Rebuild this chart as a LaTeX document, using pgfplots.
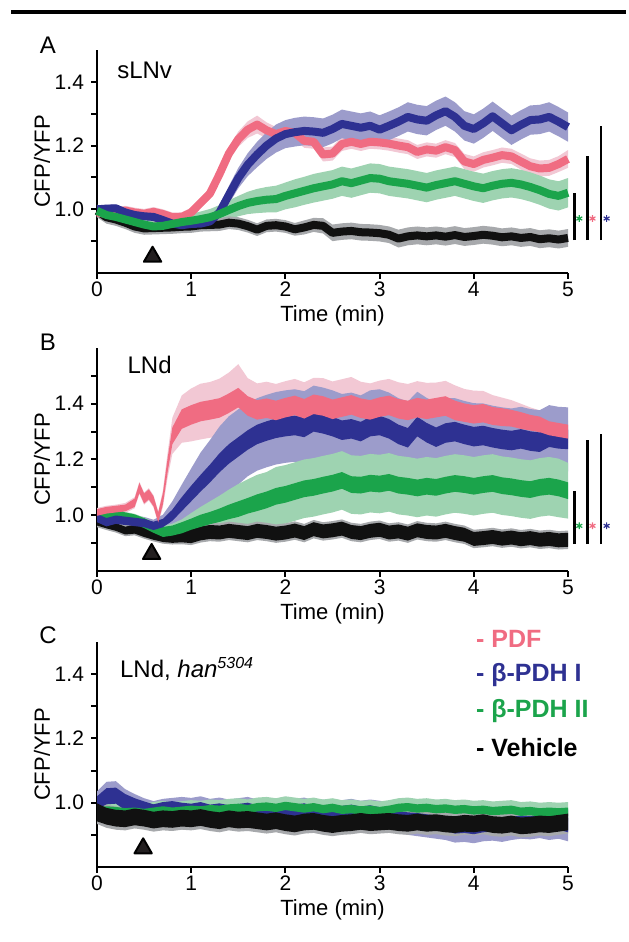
\documentclass[border=0pt]{standalone}
\usepackage{fontspec}
\setmainfont{Liberation Sans}
\usepackage{pgfplots}
\usepackage{pgfplotstable}
\pgfplotsset{compat=1.18}
\usepgfplotslibrary{fillbetween}

\definecolor{pinkL}{HTML}{F06C82}
\definecolor{pinkB}{HTML}{F2C8D4}
\definecolor{blueL}{HTML}{2E3192}
\definecolor{blueB}{HTML}{9C9CCB}
\definecolor{greenL}{HTML}{1BA44B}
\definecolor{greenB}{HTML}{9ED3B1}
\definecolor{blackL}{HTML}{111111}
\definecolor{grayB}{HTML}{A7A9AC}
\definecolor{triF}{HTML}{231F20}

% ---------- panel A (sLNv): t, mean, band half-width ----------
\pgfplotstableread{
t m b
0.0 0.995 0.020
0.1 0.975 0.020
0.2 0.968 0.020
0.3 0.958 0.020
0.4 0.946 0.020
0.5 0.940 0.020
0.6 0.941 0.020
0.7 0.942 0.020
0.8 0.943 0.020
0.9 0.945 0.020
1.0 0.946 0.020
1.1 0.950 0.020
1.2 0.951 0.020
1.3 0.952 0.020
1.4 0.958 0.020
1.5 0.955 0.020
1.6 0.947 0.020
1.7 0.936 0.020
1.8 0.948 0.020
1.9 0.950 0.020
2.0 0.946 0.020
2.1 0.937 0.020
2.2 0.943 0.022
2.3 0.951 0.022
2.4 0.948 0.024
2.5 0.926 0.026
2.6 0.930 0.026
2.7 0.932 0.026
2.8 0.928 0.026
2.9 0.927 0.026
3.0 0.925 0.026
3.1 0.920 0.026
3.2 0.908 0.028
3.3 0.915 0.028
3.4 0.918 0.028
3.5 0.915 0.028
3.6 0.918 0.028
3.7 0.914 0.028
3.8 0.919 0.028
3.9 0.913 0.028
4.0 0.916 0.028
4.1 0.920 0.028
4.2 0.917 0.028
4.3 0.912 0.028
4.4 0.915 0.028
4.5 0.910 0.028
4.6 0.913 0.028
4.7 0.906 0.028
4.8 0.909 0.028
4.9 0.905 0.028
5.0 0.910 0.028
}\Ablack

\pgfplotstableread{
t m b
0.0 0.995 0.012
0.1 0.982 0.012
0.2 0.976 0.015
0.3 0.968 0.015
0.4 0.960 0.016
0.5 0.952 0.016
0.6 0.946 0.016
0.7 0.948 0.018
0.8 0.954 0.020
0.9 0.960 0.022
1.0 0.964 0.022
1.1 0.969 0.024
1.2 0.975 0.026
1.3 0.985 0.028
1.4 0.998 0.030
1.5 1.010 0.032
1.6 1.020 0.035
1.7 1.026 0.038
1.8 1.030 0.040
1.9 1.032 0.042
2.0 1.042 0.042
2.1 1.050 0.044
2.2 1.058 0.044
2.3 1.066 0.045
2.4 1.072 0.045
2.5 1.078 0.045
2.6 1.088 0.046
2.7 1.082 0.046
2.8 1.090 0.046
2.9 1.098 0.046
3.0 1.096 0.046
3.1 1.088 0.046
3.2 1.084 0.046
3.3 1.080 0.046
3.4 1.074 0.046
3.5 1.068 0.046
3.6 1.076 0.046
3.7 1.082 0.046
3.8 1.088 0.046
3.9 1.080 0.046
4.0 1.072 0.046
4.1 1.066 0.046
4.2 1.074 0.046
4.3 1.080 0.046
4.4 1.083 0.046
4.5 1.078 0.046
4.6 1.070 0.046
4.7 1.060 0.046
4.8 1.048 0.046
4.9 1.042 0.046
5.0 1.052 0.046
}\Agreen

\pgfplotstableread{
t m b
0.0 0.990 0.012
0.1 0.985 0.012
0.2 0.992 0.015
0.3 0.996 0.015
0.4 0.990 0.015
0.5 0.986 0.015
0.6 0.992 0.015
0.7 0.985 0.015
0.8 0.975 0.015
0.9 0.976 0.015
1.0 0.990 0.015
1.1 1.020 0.016
1.2 1.050 0.018
1.3 1.110 0.020
1.4 1.175 0.022
1.5 1.220 0.024
1.6 1.250 0.026
1.7 1.266 0.028
1.8 1.248 0.025
1.9 1.236 0.022
2.0 1.246 0.022
2.1 1.240 0.022
2.2 1.215 0.022
2.3 1.212 0.022
2.4 1.172 0.022
2.5 1.175 0.022
2.6 1.205 0.022
2.7 1.212 0.022
2.8 1.205 0.022
2.9 1.212 0.022
3.0 1.210 0.022
3.1 1.206 0.022
3.2 1.200 0.022
3.3 1.195 0.022
3.4 1.180 0.022
3.5 1.188 0.022
3.6 1.184 0.022
3.7 1.195 0.022
3.8 1.186 0.022
3.9 1.150 0.024
4.0 1.142 0.024
4.1 1.155 0.024
4.2 1.162 0.024
4.3 1.170 0.024
4.4 1.166 0.024
4.5 1.150 0.025
4.6 1.135 0.025
4.7 1.128 0.025
4.8 1.130 0.025
4.9 1.142 0.025
5.0 1.158 0.028
}\Apink

\pgfplotstableread{
t m b
0.0 1.000 0.012
0.1 1.002 0.012
0.2 1.003 0.012
0.3 0.990 0.012
0.4 0.982 0.012
0.5 0.978 0.014
0.6 0.976 0.014
0.7 0.966 0.014
0.8 0.955 0.014
0.9 0.950 0.014
1.0 0.954 0.015
1.1 0.955 0.015
1.2 0.962 0.018
1.3 0.990 0.022
1.4 1.045 0.028
1.5 1.098 0.032
1.6 1.140 0.036
1.7 1.172 0.040
1.8 1.200 0.042
1.9 1.222 0.044
2.0 1.236 0.044
2.1 1.242 0.045
2.2 1.246 0.045
2.3 1.244 0.045
2.4 1.240 0.045
2.5 1.252 0.045
2.6 1.268 0.045
2.7 1.262 0.045
2.8 1.256 0.045
2.9 1.262 0.045
3.0 1.250 0.045
3.1 1.262 0.045
3.2 1.275 0.045
3.3 1.290 0.046
3.4 1.282 0.046
3.5 1.278 0.046
3.6 1.295 0.046
3.7 1.308 0.046
3.8 1.290 0.046
3.9 1.262 0.046
4.0 1.252 0.046
4.1 1.270 0.046
4.2 1.292 0.046
4.3 1.270 0.046
4.4 1.248 0.046
4.5 1.265 0.046
4.6 1.280 0.046
4.7 1.282 0.046
4.8 1.290 0.046
4.9 1.275 0.046
5.0 1.258 0.046
}\Ablue

% ---------- panel B (LNd): t, mean, dark half-width, light half-width ----------
\pgfplotstableread{
t m a b
0.0 0.975 0.012 0.018
0.1 0.965 0.012 0.018
0.2 0.958 0.014 0.020
0.3 0.945 0.014 0.020
0.4 0.950 0.016 0.022
0.5 0.940 0.018 0.024
0.6 0.932 0.020 0.026
0.7 0.926 0.022 0.028
0.8 0.925 0.024 0.030
0.9 0.928 0.025 0.032
1.0 0.925 0.025 0.032
1.1 0.935 0.025 0.033
1.2 0.940 0.025 0.033
1.3 0.938 0.025 0.033
1.4 0.944 0.025 0.033
1.5 0.940 0.025 0.033
1.6 0.936 0.025 0.033
1.7 0.944 0.025 0.033
1.8 0.940 0.025 0.033
1.9 0.934 0.025 0.033
2.0 0.938 0.025 0.033
2.1 0.945 0.025 0.033
2.2 0.936 0.025 0.033
2.3 0.950 0.025 0.033
2.4 0.942 0.025 0.033
2.5 0.946 0.025 0.033
2.6 0.952 0.025 0.033
2.7 0.940 0.025 0.033
2.8 0.936 0.025 0.033
2.9 0.944 0.025 0.033
3.0 0.948 0.025 0.033
3.1 0.938 0.025 0.033
3.2 0.942 0.025 0.033
3.3 0.934 0.025 0.033
3.4 0.946 0.025 0.033
3.5 0.940 0.025 0.033
3.6 0.938 0.025 0.033
3.7 0.944 0.025 0.033
3.8 0.936 0.025 0.033
3.9 0.930 0.025 0.033
4.0 0.915 0.025 0.033
4.1 0.918 0.025 0.033
4.2 0.922 0.025 0.033
4.3 0.916 0.025 0.033
4.4 0.920 0.025 0.033
4.5 0.914 0.025 0.033
4.6 0.918 0.025 0.033
4.7 0.912 0.025 0.033
4.8 0.915 0.025 0.033
4.9 0.910 0.025 0.033
5.0 0.912 0.025 0.033
}\Bblack

\pgfplotstableread{
t m a b
0.0 1.000 0.018 0.020
0.1 1.004 0.018 0.020
0.2 1.002 0.018 0.020
0.3 0.992 0.018 0.020
0.4 0.985 0.018 0.020
0.5 0.972 0.018 0.020
0.6 0.955 0.018 0.020
0.7 0.940 0.018 0.022
0.8 0.945 0.018 0.025
0.9 0.955 0.020 0.030
1.0 0.968 0.020 0.040
1.1 0.980 0.022 0.050
1.2 0.990 0.022 0.060
1.3 1.000 0.024 0.070
1.4 1.012 0.026 0.080
1.5 1.022 0.028 0.090
1.6 1.034 0.028 0.095
1.7 1.045 0.030 0.100
1.8 1.055 0.030 0.100
1.9 1.068 0.030 0.105
2.0 1.075 0.030 0.105
2.1 1.085 0.030 0.105
2.2 1.095 0.030 0.105
2.3 1.100 0.030 0.105
2.4 1.108 0.030 0.105
2.5 1.115 0.030 0.105
2.6 1.125 0.030 0.105
2.7 1.110 0.030 0.105
2.8 1.108 0.030 0.105
2.9 1.115 0.030 0.105
3.0 1.112 0.030 0.105
3.1 1.118 0.030 0.105
3.2 1.108 0.030 0.105
3.3 1.104 0.030 0.105
3.4 1.098 0.030 0.105
3.5 1.104 0.030 0.105
3.6 1.100 0.030 0.105
3.7 1.108 0.030 0.105
3.8 1.114 0.030 0.105
3.9 1.110 0.030 0.105
4.0 1.104 0.030 0.105
4.1 1.110 0.030 0.105
4.2 1.114 0.030 0.105
4.3 1.106 0.030 0.105
4.4 1.102 0.030 0.105
4.5 1.096 0.030 0.105
4.6 1.092 0.030 0.105
4.7 1.100 0.030 0.105
4.8 1.104 0.030 0.105
4.9 1.098 0.030 0.105
5.0 1.088 0.030 0.100
}\Bgreen

\pgfplotstableread{
t m a b
0.0 0.990 0.015 0.020
0.1 0.975 0.015 0.020
0.2 0.984 0.015 0.020
0.3 0.980 0.015 0.020
0.4 0.976 0.015 0.022
0.5 0.972 0.015 0.022
0.6 0.962 0.015 0.022
0.7 0.972 0.015 0.030
0.8 1.000 0.020 0.050
0.9 1.040 0.025 0.070
1.0 1.078 0.028 0.090
1.1 1.115 0.030 0.110
1.2 1.150 0.032 0.120
1.3 1.188 0.034 0.130
1.4 1.220 0.035 0.135
1.5 1.245 0.035 0.135
1.6 1.270 0.035 0.130
1.7 1.290 0.035 0.130
1.8 1.302 0.035 0.130
1.9 1.312 0.035 0.130
2.0 1.318 0.035 0.130
2.1 1.322 0.035 0.130
2.2 1.315 0.035 0.130
2.3 1.335 0.035 0.130
2.4 1.328 0.035 0.130
2.5 1.318 0.035 0.130
2.6 1.305 0.035 0.130
2.7 1.310 0.035 0.130
2.8 1.300 0.035 0.130
2.9 1.318 0.035 0.130
3.0 1.322 0.035 0.130
3.1 1.310 0.035 0.130
3.2 1.290 0.035 0.130
3.3 1.278 0.035 0.130
3.4 1.318 0.035 0.125
3.5 1.296 0.035 0.125
3.6 1.280 0.035 0.125
3.7 1.295 0.035 0.125
3.8 1.300 0.035 0.120
3.9 1.290 0.035 0.120
4.0 1.282 0.035 0.120
4.1 1.286 0.035 0.115
4.2 1.278 0.035 0.115
4.3 1.272 0.035 0.115
4.4 1.268 0.035 0.115
4.5 1.274 0.035 0.115
4.6 1.266 0.035 0.115
4.7 1.262 0.035 0.115
4.8 1.280 0.035 0.115
4.9 1.274 0.035 0.115
5.0 1.272 0.035 0.115
}\Bblue

\pgfplotstableread{
t m a b
0.0 1.010 0.012 0.016
0.1 1.018 0.012 0.016
0.2 1.022 0.012 0.016
0.3 1.026 0.012 0.018
0.4 1.045 0.015 0.020
0.45 1.098 0.018 0.022
0.5 1.060 0.018 0.022
0.55 1.075 0.018 0.022
0.6 1.050 0.018 0.022
0.65 0.992 0.018 0.022
0.7 1.060 0.020 0.030
0.75 1.180 0.025 0.045
0.8 1.285 0.030 0.065
0.9 1.345 0.035 0.085
1.0 1.360 0.035 0.095
1.1 1.372 0.035 0.100
1.2 1.378 0.035 0.100
1.3 1.385 0.035 0.105
1.4 1.402 0.035 0.110
1.5 1.422 0.035 0.120
1.6 1.392 0.035 0.100
1.7 1.378 0.035 0.095
1.8 1.384 0.035 0.095
1.9 1.376 0.035 0.095
2.0 1.386 0.035 0.095
2.1 1.394 0.035 0.095
2.2 1.382 0.035 0.095
2.3 1.398 0.035 0.095
2.4 1.392 0.035 0.100
2.5 1.380 0.035 0.100
2.6 1.388 0.035 0.100
2.7 1.396 0.035 0.100
2.8 1.384 0.035 0.095
2.9 1.378 0.035 0.095
3.0 1.388 0.035 0.095
3.1 1.394 0.035 0.095
3.2 1.382 0.035 0.095
3.3 1.376 0.035 0.095
3.4 1.386 0.035 0.095
3.5 1.380 0.035 0.095
3.6 1.386 0.035 0.090
3.7 1.392 0.035 0.090
3.8 1.376 0.035 0.090
3.9 1.368 0.033 0.085
4.0 1.362 0.033 0.085
4.1 1.366 0.033 0.080
4.2 1.356 0.032 0.075
4.3 1.352 0.032 0.070
4.4 1.348 0.030 0.065
4.5 1.340 0.030 0.060
4.6 1.332 0.028 0.055
4.7 1.326 0.028 0.050
4.8 1.312 0.025 0.045
4.9 1.306 0.025 0.040
5.0 1.300 0.025 0.040
}\Bpink

% ---------- panel C (LNd, han5304) ----------
\pgfplotstableread{
t m a b
0.0 0.970 0.028 0.036
0.1 0.958 0.026 0.036
0.2 0.952 0.026 0.036
0.3 0.950 0.026 0.036
0.4 0.956 0.026 0.036
0.5 0.952 0.026 0.036
0.6 0.946 0.026 0.036
0.7 0.950 0.026 0.036
0.8 0.948 0.026 0.036
0.9 0.952 0.026 0.036
1.0 0.950 0.026 0.036
1.1 0.954 0.026 0.036
1.2 0.948 0.026 0.036
1.3 0.944 0.026 0.036
1.4 0.950 0.026 0.036
1.5 0.946 0.026 0.036
1.6 0.948 0.026 0.036
1.7 0.944 0.026 0.036
1.8 0.940 0.026 0.036
1.9 0.944 0.026 0.036
2.0 0.938 0.026 0.036
2.1 0.934 0.026 0.036
2.2 0.940 0.026 0.036
2.3 0.942 0.026 0.036
2.4 0.936 0.026 0.036
2.5 0.932 0.026 0.036
2.6 0.936 0.026 0.036
2.7 0.938 0.026 0.036
2.8 0.942 0.026 0.036
2.9 0.938 0.026 0.036
3.0 0.940 0.026 0.036
3.1 0.942 0.026 0.036
3.2 0.938 0.026 0.036
3.3 0.936 0.026 0.036
3.4 0.940 0.026 0.036
3.5 0.936 0.026 0.036
3.6 0.938 0.026 0.036
3.7 0.934 0.026 0.036
3.8 0.932 0.026 0.036
3.9 0.936 0.026 0.036
4.0 0.934 0.026 0.036
4.1 0.938 0.026 0.036
4.2 0.932 0.026 0.036
4.3 0.930 0.026 0.036
4.4 0.934 0.026 0.036
4.5 0.928 0.026 0.036
4.6 0.930 0.026 0.036
4.7 0.934 0.026 0.036
4.8 0.932 0.026 0.036
4.9 0.936 0.026 0.036
5.0 0.940 0.026 0.036
}\Cblack

\pgfplotstableread{
t m a b
0.0 0.975 0.013 0.030
0.1 0.976 0.013 0.030
0.2 0.974 0.013 0.030
0.3 0.970 0.013 0.030
0.4 0.972 0.013 0.030
0.5 0.968 0.013 0.030
0.6 0.972 0.013 0.030
0.7 0.976 0.013 0.030
0.8 0.972 0.013 0.030
0.9 0.975 0.013 0.030
1.0 0.978 0.013 0.030
1.1 0.976 0.013 0.030
1.2 0.980 0.013 0.030
1.3 0.978 0.013 0.030
1.4 0.982 0.013 0.030
1.5 0.984 0.013 0.030
1.6 0.980 0.013 0.030
1.7 0.986 0.013 0.030
1.8 0.988 0.013 0.030
1.9 0.984 0.013 0.030
2.0 0.990 0.013 0.030
2.1 0.986 0.013 0.030
2.2 0.982 0.013 0.030
2.3 0.986 0.013 0.030
2.4 0.980 0.013 0.030
2.5 0.984 0.013 0.030
2.6 0.978 0.013 0.030
2.7 0.980 0.013 0.030
2.8 0.976 0.013 0.030
2.9 0.978 0.013 0.030
3.0 0.974 0.013 0.030
3.1 0.978 0.013 0.030
3.2 0.984 0.013 0.030
3.3 0.986 0.013 0.030
3.4 0.982 0.013 0.030
3.5 0.984 0.013 0.030
3.6 0.980 0.013 0.030
3.7 0.982 0.013 0.030
3.8 0.978 0.013 0.030
3.9 0.980 0.013 0.030
4.0 0.976 0.013 0.030
4.1 0.978 0.013 0.030
4.2 0.974 0.013 0.030
4.3 0.976 0.013 0.030
4.4 0.978 0.013 0.030
4.5 0.972 0.013 0.030
4.6 0.974 0.013 0.030
4.7 0.970 0.013 0.030
4.8 0.972 0.013 0.030
4.9 0.970 0.013 0.030
5.0 0.972 0.013 0.030
}\Cgreen

\pgfplotstableread{
t m a b
0.0 1.000 0.020 0.035
0.1 1.020 0.025 0.045
0.2 1.022 0.025 0.045
0.3 1.002 0.025 0.040
0.4 0.992 0.022 0.035
0.5 0.982 0.022 0.032
0.6 0.975 0.020 0.030
0.7 0.982 0.020 0.030
0.8 0.985 0.020 0.030
0.9 0.978 0.022 0.040
1.0 0.975 0.022 0.040
1.1 0.980 0.022 0.040
1.2 0.972 0.022 0.040
1.3 0.976 0.022 0.040
1.4 0.970 0.022 0.040
1.5 0.974 0.022 0.040
1.6 0.978 0.022 0.040
1.7 0.970 0.022 0.040
1.8 0.966 0.022 0.040
1.9 0.972 0.022 0.040
2.0 0.978 0.022 0.040
2.1 0.972 0.022 0.040
2.2 0.976 0.022 0.040
2.3 0.968 0.022 0.040
2.4 0.970 0.022 0.040
2.5 0.962 0.022 0.040
2.6 0.968 0.022 0.040
2.7 0.972 0.022 0.040
2.8 0.966 0.022 0.040
2.9 0.970 0.022 0.040
3.0 0.964 0.022 0.042
3.1 0.958 0.022 0.044
3.2 0.952 0.022 0.046
3.3 0.948 0.022 0.048
3.4 0.946 0.022 0.050
3.5 0.942 0.022 0.050
3.6 0.938 0.022 0.050
3.7 0.934 0.022 0.050
3.8 0.926 0.022 0.050
3.9 0.928 0.022 0.050
4.0 0.924 0.022 0.050
4.1 0.930 0.022 0.050
4.2 0.932 0.022 0.050
4.3 0.928 0.022 0.050
4.4 0.934 0.022 0.050
4.5 0.938 0.022 0.050
4.6 0.936 0.022 0.050
4.7 0.940 0.022 0.050
4.8 0.934 0.022 0.050
4.9 0.938 0.022 0.050
5.0 0.930 0.022 0.050
}\Cblue

% band m +- column #2 of table #1, filled with colour #3
\newcommand{\band}[4]{%
  \addplot[draw=none, name path=#4u, forget plot] table[x=t, y expr=\thisrow{m}+\thisrow{#2}] {#1};
  \addplot[draw=none, name path=#4l, forget plot] table[x=t, y expr=\thisrow{m}-\thisrow{#2}] {#1};
  \addplot[fill=#3, draw=none, forget plot] fill between[of=#4u and #4l];
}

\pgfplotsset{
  panel/.style={
    scale only axis, width=235.5pt,
    xmin=0, xmax=5, ymin=0.8,
    axis x line*=bottom, axis y line*=left,
    axis line style={line width=1pt},
    xtick={0,1,2,3,4,5}, ytick={1.0,1.2,1.4},
    tick align=outside, major tick length=3pt, minor tick length=3pt,
    every tick/.style={black, line width=1pt},
    every minor tick/.style={black, line width=1pt},
    yticklabel style={/pgf/number format/.cd, fixed, fixed zerofill, precision=1, assume math mode=true},
    xticklabel style={/pgf/number format/assume math mode=true, yshift=2pt},
    tick label style={font=\fontsize{10.5}{11}\selectfont},
    xlabel={Time (min)}, ylabel={CFP/YFP},
    label style={font=\fontsize{11}{12}\selectfont},
    xlabel style={yshift=2.5pt}, ylabel style={yshift=-4.5pt},
    clip=false,
  },
  sig/.style={black, line width=1.35pt},
  sigstar/.style={only marks, mark=asterisk, mark size=1.7pt, mark options={line width=0.6pt}},
  arrowtri/.style={only marks, mark=triangle*, mark size=5pt, mark options={fill=triF, draw=black, line width=1pt, line join=round}},
}

\begin{document}
\begin{tikzpicture}
\path (0pt,0pt) rectangle (313pt,471pt);
\draw[line width=2pt] (5.5pt,465pt) -- (313pt,465pt);
\node[font=\fontsize{12}{12}\selectfont] at (24pt,448.5pt) {A};
\node[font=\fontsize{12}{12}\selectfont] at (24pt,300pt) {B};
\node[font=\fontsize{12}{12}\selectfont] at (24pt,153.5pt) {C};

% ---------------- A ----------------
\begin{axis}[panel, at={(48.5pt,334.5pt)}, anchor=south west, height=111.5pt,
  ymax=1.5, minor ytick={0.9,1.1,1.3}]
\band{\Apink}{b}{pinkB}{ap}
\band{\Ablue}{b}{blueB}{ab}
\band{\Agreen}{b}{greenB}{ag}
\band{\Ablack}{b}{grayB}{ak}
\addplot[blackL, line width=4pt, line join=round] table[x=t, y=m] {\Ablack};
\addplot[pinkL, line width=4pt, line join=round] table[x=t, y=m] {\Apink};
\addplot[blueL, line width=4pt, line join=round] table[x=t, y=m] {\Ablue};
\addplot[greenL, line width=4pt, line join=round] table[x=t, y=m] {\Agreen};
\addplot[sig] coordinates {(5.07,0.903) (5.07,1.052)};
\addplot[sig] coordinates {(5.21,0.903) (5.21,1.167)};
\addplot[sig] coordinates {(5.35,0.903) (5.35,1.262)};
\addplot[sigstar, greenL] coordinates {(5.12,0.971)};
\addplot[sigstar, pinkL] coordinates {(5.26,0.971)};
\addplot[sigstar, blueL] coordinates {(5.41,0.971)};
\addplot[arrowtri] coordinates {(0.59,0.851)};
\node[anchor=west, font=\fontsize{12}{12}\selectfont] at (axis cs:0.14,1.435) {sLNv};
\end{axis}

% ---------------- B ----------------
\begin{axis}[panel, at={(48.5pt,185.5pt)}, anchor=south west, height=111.5pt,
  ymax=1.6, minor ytick={0.9,1.1,1.3,1.5}]
\band{\Bpink}{b}{pinkB}{bp}
\band{\Bblue}{b}{blueB}{bb}
\band{\Bgreen}{b}{greenB}{bg}
\band{\Bblack}{b}{grayB}{bk}
\band{\Bblack}{a}{blackL}{bkd}
\band{\Bgreen}{a}{greenL}{bgd}
\band{\Bblue}{a}{blueL}{bbd}
\band{\Bpink}{a}{pinkL}{bpd}
\addplot[sig] coordinates {(5.07,0.896) (5.07,1.087)};
\addplot[sig] coordinates {(5.21,0.896) (5.21,1.271)};
\addplot[sig] coordinates {(5.35,0.896) (5.35,1.291)};
\addplot[sigstar, greenL] coordinates {(5.12,0.962)};
\addplot[sigstar, pinkL] coordinates {(5.26,0.962)};
\addplot[sigstar, blueL] coordinates {(5.41,0.962)};
\addplot[arrowtri] coordinates {(0.58,0.861)};
\node[anchor=west, font=\fontsize{12}{12}\selectfont] at (axis cs:0.25,1.54) {LNd};
\end{axis}

% ---------------- C ----------------
\begin{axis}[panel, at={(48.5pt,37.5pt)}, anchor=south west, height=112.5pt,
  ymax=1.5, minor ytick={0.9,1.1,1.3}]
\band{\Cblue}{b}{blueB}{cb}
\band{\Cgreen}{b}{greenB}{cg}
\band{\Cblack}{b}{grayB}{ck}
\band{\Cblue}{a}{blueL}{cbd}
\band{\Cgreen}{a}{greenL}{cgd}
\band{\Cblack}{a}{blackL}{ckd}
\addplot[arrowtri] coordinates {(0.49,0.858)};
\node[anchor=west, font=\fontsize{12}{12}\selectfont] at (axis cs:0.17,1.416) {LNd, \textit{han}\textsuperscript{\textit{5304}}};
\node[anchor=west, text=pinkL, font=\bfseries\fontsize{12.5}{13}\selectfont] at (axis cs:3.95,1.511) {- PDF};
\node[anchor=west, text=blueL, font=\bfseries\fontsize{12.5}{13}\selectfont] at (axis cs:3.95,1.397) {- β-PDH I};
\node[anchor=west, text=greenL, font=\bfseries\fontsize{12.5}{13}\selectfont] at (axis cs:3.95,1.284) {- β-PDH II};
\node[anchor=west, text=black, font=\bfseries\fontsize{12.5}{13}\selectfont] at (axis cs:3.95,1.173) {- Vehicle};
\end{axis}
\end{tikzpicture}
\end{document}
